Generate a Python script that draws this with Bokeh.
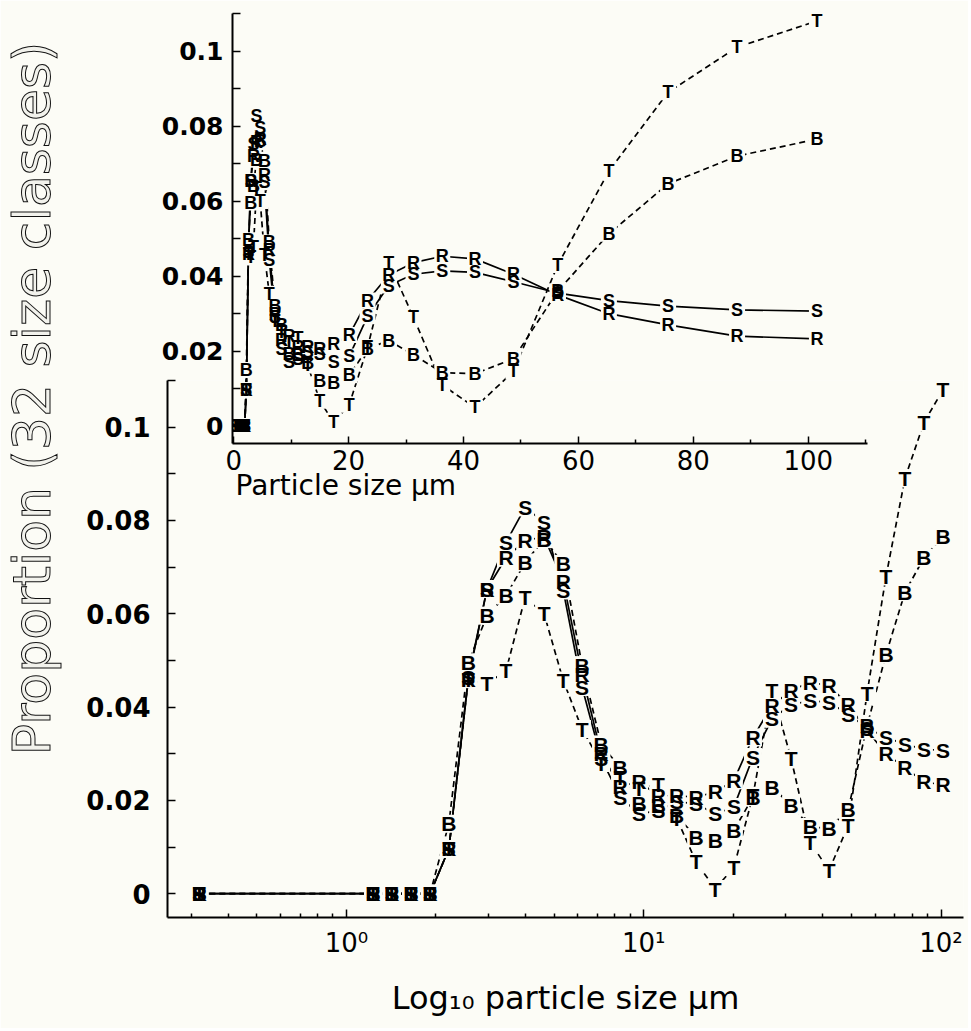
import math
from bokeh.plotting import figure
from bokeh.models import FixedTicker, Label, Column, ColumnDataSource, Range1d
from bokeh.core.properties import value
from bokeh.embed import file_html
from bokeh.resources import INLINE

# ---- data ----
sizes = [0.32, 1.23, 1.42, 1.65, 1.91, 2.21, 2.57, 2.97, 3.44, 3.99, 4.62, 5.36,
         6.20, 7.19, 8.33, 9.64, 11.2, 12.9, 15.0, 17.4, 20.1, 23.3, 27.0, 31.3,
         36.3, 42.0, 48.7, 56.4, 65.3, 75.6, 87.6, 101.5]
S = [0, 0, 0, 0, 0, 0.0096, 0.0464, 0.0653, 0.0753, 0.0828, 0.0796, 0.065,
     0.0443, 0.029, 0.0207, 0.0171, 0.0178, 0.0197, 0.0193, 0.0171, 0.0186, 0.0293,
     0.0375, 0.0405, 0.0414, 0.041, 0.0385, 0.0355, 0.0335, 0.032, 0.031, 0.0307]
R = [0, 0, 0, 0, 0, 0.0096, 0.046, 0.0653, 0.072, 0.0757, 0.0765, 0.067,
     0.047, 0.030, 0.023, 0.024, 0.021, 0.021, 0.0207, 0.0218, 0.0243, 0.0335,
     0.0403, 0.0436, 0.0453, 0.0446, 0.0405, 0.035, 0.030, 0.027, 0.024, 0.0233]
B = [0, 0, 0, 0, 0, 0.015, 0.0496, 0.0596, 0.0639, 0.071, 0.076, 0.0707,
     0.049, 0.032, 0.027, 0.0193, 0.019, 0.0168, 0.0121, 0.0114, 0.0136, 0.0207,
     0.0228, 0.019, 0.0143, 0.014, 0.018, 0.036, 0.0513, 0.0646, 0.072, 0.0765]
T = [0, 0, 0, 0, 0, 0.0096, 0.046, 0.045, 0.0478, 0.0635, 0.060, 0.0457,
     0.0353, 0.028, 0.025, 0.0225, 0.0235, 0.0162, 0.0068, 0.001, 0.0057, 0.021,
     0.0436, 0.029, 0.011, 0.005, 0.0146, 0.043, 0.068, 0.089, 0.101, 0.108]

series = [("T", T, "6 4"), ("B", B, "6 4"), ("R", R, "solid"), ("S", S, "solid")]

y_major = [0, 0.02, 0.04, 0.06, 0.08, 0.1]
y_minor = [0.01, 0.03, 0.05, 0.07, 0.09, 0.11]
y_labels = {0: "0", 0.02: "0.02", 0.04: "0.04", 0.06: "0.06", 0.08: "0.08", 0.1: "0.1"}
log_major = [1, 10, 100]
log_minor = [0.3, 0.4, 0.5, 0.6, 0.7, 0.8, 0.9, 2, 3, 4, 5, 6, 7, 8, 9,
             20, 30, 40, 50, 60, 70, 80, 90]
log_labels = {1: "10\u2070", 10: "10\u00b9", 100: "10\u00b2"}
lin_major = [0, 20, 40, 60, 80, 100]
lin_minor = [10, 30, 50, 70, 90, 110]

BG = "#fcfcf6"
TICK_FONT = "DejaVu Sans"
LETTER_FONT = "Liberation Sans"

MAIN_W, MAIN_H = 968, 1028
LEFT_B = 167            # shared left border (the column aligns them)
RIGHT_B = 5
INSET_SHIFT = 65        # horizontal offset of the inset
INSET_W, INSET_H = 807, 513
ANN_FRAME_W = 470       # width of the transparent text layer


def style_axis(ax, font_size, bold, standoff, tin, minor_in):
    ax.axis_line_width = 2
    ax.axis_line_color = "black"
    ax.major_tick_in = tin
    ax.major_tick_out = 0
    ax.minor_tick_in = minor_in
    ax.minor_tick_out = 0
    ax.major_tick_line_width = 1.5
    ax.minor_tick_line_width = 1.5
    ax.major_tick_line_color = "black"
    ax.minor_tick_line_color = "black"
    ax.major_label_text_font = TICK_FONT
    ax.major_label_text_font_size = font_size
    ax.major_label_text_font_style = "bold" if bold else "normal"
    ax.major_label_text_color = "black"
    ax.major_label_standoff = standoff


def draw_series(p, letter_size, box_size):
    for name, vals, dash in series:
        p.line(sizes, vals, line_color="black", line_width=1.7, line_dash=dash)
    for name, vals, dash in series:
        p.scatter(sizes, vals, marker="square", size=box_size,
                  fill_color=BG, line_color=None)
    for name, vals, dash in series:
        src = ColumnDataSource(dict(x=sizes, y=vals, t=[name] * len(sizes)))
        p.text(x="x", y="y", text="t", source=src,
               text_font=value(LETTER_FONT), text_font_style="bold",
               text_font_size=letter_size, text_align="center",
               text_baseline="middle", text_color="black")


# ---- main (log) plot ----
main = figure(width=MAIN_W, height=MAIN_H, x_axis_type="log",
              x_range=(0.25, 119), y_range=(-0.0051, 0.11),
              output_backend="svg", toolbar_location=None,
              min_border_left=LEFT_B, min_border_right=RIGHT_B,
              min_border_top=380, min_border_bottom=111)
main.background_fill_color = BG
main.border_fill_color = BG
main.outline_line_color = None
main.grid.visible = False

xa = main.xaxis[0]
xa.ticker = FixedTicker(ticks=log_major, minor_ticks=log_minor)
xa.major_label_overrides = log_labels
style_axis(xa, "26px", False, 10, 8, 4)
xa.axis_label = "Log\u2081\u2080 particle size \u00b5m"
xa.axis_label_text_font = TICK_FONT
xa.axis_label_text_font_size = "32px"
xa.axis_label_text_font_style = "normal"
xa.axis_label_text_color = "black"
xa.axis_label_standoff = 18

ya = main.yaxis[0]
ya.ticker = FixedTicker(ticks=y_major, minor_ticks=y_minor)
ya.major_label_overrides = y_labels
style_axis(ya, "26px", True, 17, 8, 8)

draw_series(main, "21px", 18)

# ---- inset (linear) plot ----
inset = figure(width=INSET_W, height=INSET_H, x_range=(-0.2, 110.3), y_range=(-0.0046, 0.11),
               output_backend="svg", toolbar_location=None,
               min_border_left=LEFT_B, min_border_right=RIGHT_B,
               min_border_top=13, min_border_bottom=70)
inset.background_fill_alpha = 0
inset.border_fill_alpha = 0
inset.outline_line_color = None
inset.grid.visible = False

ixa = inset.xaxis[0]
ixa.ticker = FixedTicker(ticks=lin_major, minor_ticks=lin_minor)
style_axis(ixa, "26px", False, 6, 7, 4)

iya = inset.yaxis[0]
iya.ticker = FixedTicker(ticks=y_major, minor_ticks=y_minor)
iya.major_label_overrides = y_labels
style_axis(iya, "25px", True, 9, 8, 8)

draw_series(inset, "18px", 16)

# ---- transparent text layer (titles outside the plot frames) ----
ann = figure(width=LEFT_B + ANN_FRAME_W + RIGHT_B, height=MAIN_H,
             x_range=Range1d(0, ANN_FRAME_W), y_range=Range1d(MAIN_H, 0),
             x_axis_location=None, y_axis_location=None,
             output_backend="svg", toolbar_location=None,
             min_border_left=LEFT_B, min_border_right=RIGHT_B,
             min_border_top=0, min_border_bottom=0)
ann.background_fill_alpha = 0
ann.border_fill_alpha = 0
ann.outline_line_color = None
ann.grid.visible = False

ytitle = Label(x=31, y=398, text="Proportion (32 size classes)", angle=math.pi / 2,
               text_align="center", text_baseline="middle",
               text_font=TICK_FONT, text_font_size="52px", text_color="#f2f2ec")
try:
    ytitle.text_outline_color = "#111111"
except Exception:
    ytitle.text_color = "#555555"
ann.add_layout(ytitle)

ann.add_layout(Label(x=235, y=485, text="Particle size \u00b5m", text_align="left",
                     text_baseline="middle", text_font=TICK_FONT,
                     text_font_size="28px", text_color="black"))

# the inset and the text layer are laid over the main plot
inset.margin = (-MAIN_H, 0, 0, INSET_SHIFT)
ann.margin = (-INSET_H, 0, 0, -LEFT_B)
p = Column(children=[main, inset, ann], spacing=0)

open("out.html", "w").write(file_html(p, INLINE))
